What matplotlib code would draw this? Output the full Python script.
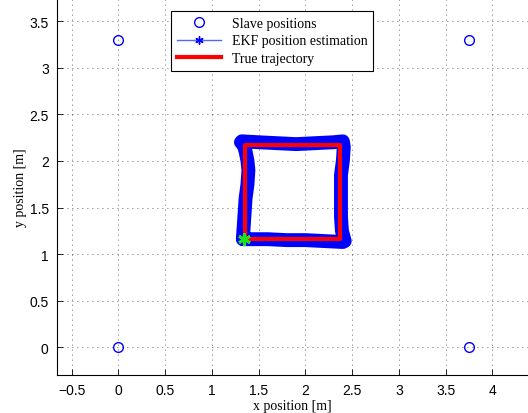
import matplotlib
matplotlib.use("Agg")
import matplotlib.pyplot as plt
from matplotlib.lines import Line2D

# Data
slave_x = [0.0, 3.75, 0.0, 3.75]
slave_y = [0.0, 0.0, 3.3, 3.3]

true_x = [1.355, 1.355, 2.37, 2.37, 1.355]
true_y = [1.162, 2.167, 2.167, 1.162, 1.162]

ekf_x = [1.33, 1.34, 1.35, 1.36, 1.38, 1.39, 1.38, 1.36, 1.34, 1.31, 1.32,
         1.50, 1.70, 1.90, 2.10, 2.30, 2.40, 2.41, 2.40, 2.38, 2.38, 2.38,
         2.39, 2.42, 2.40, 2.20, 2.00, 1.80, 1.60, 1.45, 1.34]
ekf_y = [1.16, 1.30, 1.45, 1.60, 1.75, 1.90, 2.00, 2.10, 2.17, 2.20, 2.21,
         2.20, 2.19, 2.18, 2.19, 2.20, 2.21, 2.15, 2.00, 1.85, 1.60, 1.40,
         1.25, 1.14, 1.13, 1.14, 1.15, 1.15, 1.16, 1.16, 1.16]
start_x = [1.34]
start_y = [1.16]

xticks = [-0.5, 0, 0.5, 1, 1.5, 2, 2.5, 3, 3.5, 4]
yticks = [0, 0.5, 1, 1.5, 2, 2.5, 3, 3.5]

fig = plt.figure(figsize=(5.28, 4.14), dpi=100)
ax = fig.add_axes([57/528, 38/414, 471/528, 376/414])

ax.plot(ekf_x, ekf_y, color=(0, 0, 1), lw=10, solid_capstyle='round',
        solid_joinstyle='round', zorder=2)
ax.plot(true_x, true_y, color='red', lw=3, zorder=3)
ax.plot(start_x, start_y, marker=(6, 2, 0), color=(0.1, 0.9, 0.1), ms=9, mew=2,
        ls='none', zorder=4)
ax.plot(slave_x, slave_y, 'o', mfc='none', mec='blue', ms=7, mew=1, zorder=4)

ax.set_xlim(-0.657, 4.38)
ax.set_ylim(-0.297, 3.737)
ax.set_xticks(xticks)
ax.set_yticks(yticks)
ax.set_xticklabels(['\u22120.5', '0', '0.5', '1', '1.5', '2', '2.5', '3', '3.5', '4'])
ax.set_yticklabels(['0', '0.5', '1', '1.5', '2', '2.5', '3', '3.5'])
for lab in ax.get_xticklabels() + ax.get_yticklabels():
    lab.set_family('Liberation Sans')
    lab.set_fontsize(10)
ax.tick_params(direction='in', length=4, width=0.6, pad=6)
ax.grid(True, linestyle=(0, (1, 5)), color='black', linewidth=0.6, alpha=0.8)
ax.spines['top'].set_visible(False)
ax.spines['right'].set_visible(False)
for s in ['left', 'bottom']:
    ax.spines[s].set_linewidth(0.8)

ax.set_xlabel('x position [m]', family='Liberation Serif', fontsize=10, labelpad=1)
ax.set_ylabel('y position [m]', family='Liberation Serif', fontsize=10, labelpad=2)

handles = [
    Line2D([], [], marker='o', mfc='none', mec='blue', ls='none', ms=7),
    Line2D([], [], color=(0.3, 0.4, 1), lw=1, marker=(6, 2, 0), mec='blue', mfc='blue',
           ms=6, mew=1),
    Line2D([], [], color='red', lw=3),
]
leg = ax.legend(handles, ['Slave positions', 'EKF position estimation', 'True trajectory'],
                loc='upper left', bbox_to_anchor=(114/471, 1 - 12/376),
                prop={'family': 'Liberation Serif', 'size': 10},
                fancybox=False, edgecolor='black', framealpha=1,
                handlelength=3.2, borderpad=0.4, labelspacing=0.35, handletextpad=0.8,
                borderaxespad=0)
leg.get_frame().set_linewidth(0.8)

fig.savefig('out.png', dpi=100)
